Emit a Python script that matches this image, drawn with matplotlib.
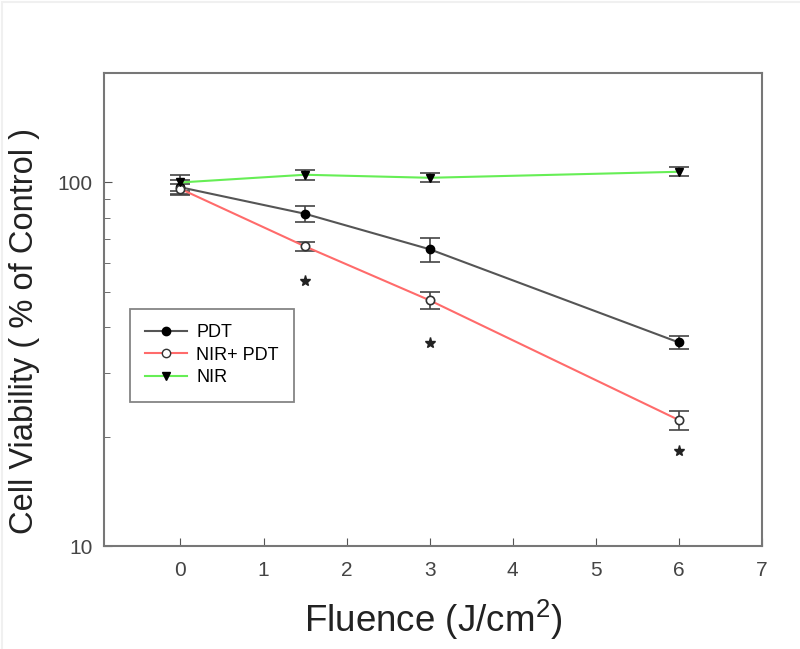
import matplotlib
matplotlib.use("Agg")
import matplotlib.pyplot as plt
from matplotlib.lines import Line2D
from matplotlib.patches import Rectangle
from matplotlib.ticker import LogLocator, FixedLocator, NullFormatter, FixedFormatter

plt.rcParams['font.family'] = ['Liberation Sans', 'DejaVu Sans']
plt.rcParams['mathtext.default'] = 'regular'

fluence = [0, 1.5, 3, 6]
pdt = [97, 82, 65.5, 36.3]
pdt_err = [4.5, 4.0, 5.0, 1.4]
nir_pdt = [96, 66.7, 47.4, 22.2]
nir_pdt_err = [3.0, 1.9, 2.5, 1.3]
nir = [100, 105, 103, 107]
nir_err = [5.0, 3.5, 3.0, 3.0]
star_x = [1.5, 3, 6]
star_y = [53.7, 36.2, 18.3]
labels = ['PDT', 'NIR+ PDT', 'NIR']

fig = plt.figure(figsize=(8, 6.49), dpi=100)
# faint frame around the picture
fig.add_artist(Rectangle((0.003, -0.01), 1.2, 1.007, transform=fig.transFigure,
                         fill=False, edgecolor='#f0f0f0', lw=1.5))
ax = fig.add_axes([0.13, 0.1587, 0.8225, 0.7288])

ekw = dict(ecolor='#444444', elinewidth=1.2, capsize=7, capthick=1.2)
ax.errorbar(fluence, pdt, yerr=pdt_err, color='#555555', lw=1.5, marker='o',
            ms=6, mfc='black', mec='black', zorder=3, **ekw)
ax.errorbar(fluence, nir_pdt, yerr=nir_pdt_err, color='#ff6b6b', lw=1.5, marker='o',
            ms=6, mfc='white', mec='#333333', mew=1.2, zorder=3, **ekw)
ax.errorbar(fluence, nir, yerr=nir_err, color='#66ee55', lw=1.5, marker='v',
            ms=6, mfc='black', mec='black', zorder=3, **ekw)

ax.plot(star_x, star_y, linestyle='none', marker='*', ms=8, color='#222222')

ax.set_yscale('log')
ax.set_ylim(10, 200)
ax.set_xlim(-0.92, 7)
ax.xaxis.set_major_locator(FixedLocator([0, 1, 2, 3, 4, 5, 6, 7]))
ax.yaxis.set_major_locator(FixedLocator([10, 100]))
ax.yaxis.set_major_formatter(FixedFormatter(['10', '100']))
ax.yaxis.set_minor_locator(LogLocator(base=10, subs=range(2, 10)))
ax.yaxis.set_minor_formatter(NullFormatter())
ax.tick_params(axis='both', which='both', direction='in', colors='#555555',
               labelcolor='#444444', labelsize=15, top=False, right=False)
ax.tick_params(axis='both', which='major', length=6)
ax.tick_params(axis='y', which='major', pad=8)
ax.tick_params(axis='x', which='major', pad=11)
ax.tick_params(axis='y', which='minor', length=4)
for s in ax.spines.values():
    s.set_color('#777777')
    s.set_linewidth(1.5)

ax.set_xlabel('Fluence (J/cm$^{2}$)', fontsize=26.5, color='#222222')
ax.xaxis.set_label_coords(0.5, -0.11)
ax.set_ylabel('Cell Viability ( % of Control )', fontsize=23.5, color='#222222')
ax.yaxis.set_label_coords(-0.097, 0.455)

handles = [
    Line2D([], [], color='#555555', lw=1.5, marker='o', ms=6, mfc='black', mec='black'),
    Line2D([], [], color='#ff6b6b', lw=1.5, marker='o', ms=6, mfc='white', mec='#333333'),
    Line2D([], [], color='#66ee55', lw=1.5, marker='v', ms=6, mfc='black', mec='black'),
]
leg = ax.legend(handles, labels, loc='upper left', bbox_to_anchor=(0.039, 0.502),
                fontsize=13, frameon=True, fancybox=False, handlelength=2.3,
                borderpad=0.85, labelspacing=0.32, handletextpad=0.55, borderaxespad=0)
leg.get_frame().set_edgecolor('#666666')
leg.get_frame().set_linewidth(1.3)

fig.savefig('out.png', dpi=100)
